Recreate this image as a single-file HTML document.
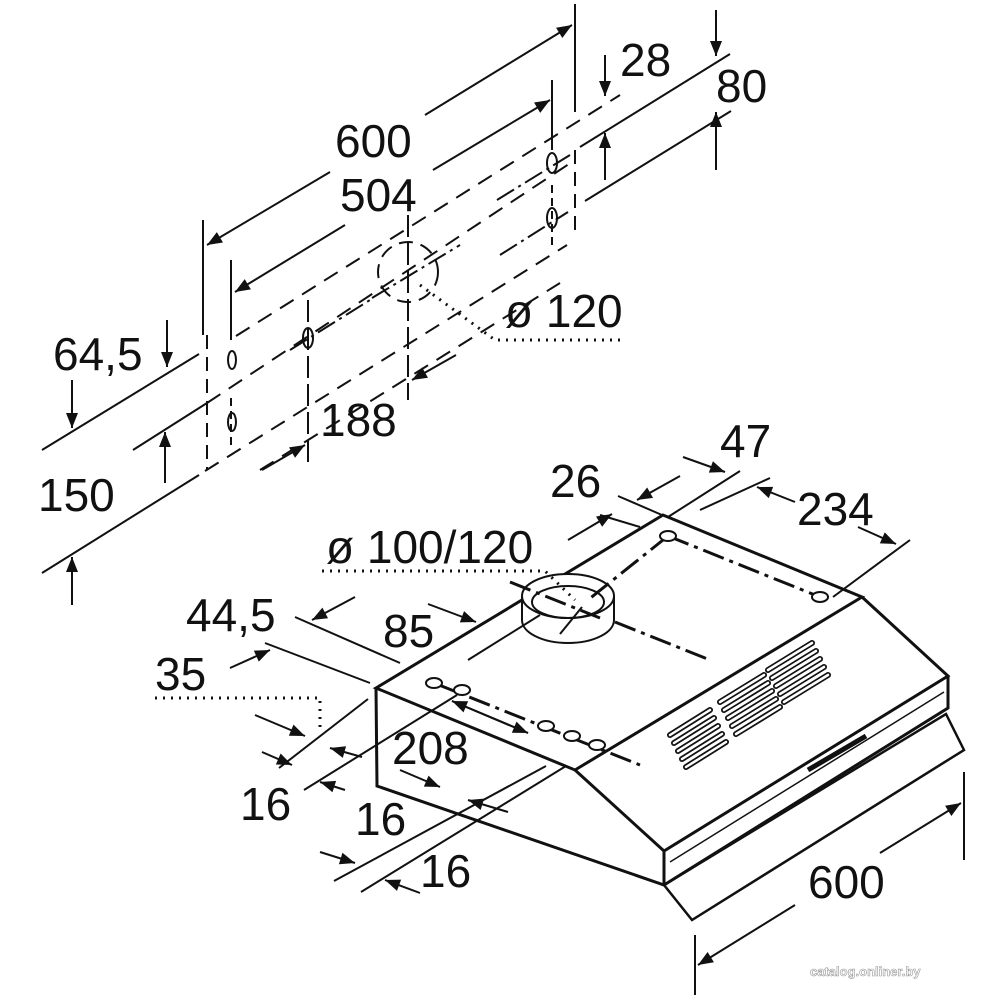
<!DOCTYPE html>
<html><head><meta charset="utf-8"><style>
body{margin:0;background:#fff}
svg text{font-family:"Liberation Sans",sans-serif;font-size:46px;fill:#111}
</style></head><body>
<svg width="1000" height="1000" viewBox="0 0 1000 1000" xmlns="http://www.w3.org/2000/svg">
<defs>
<marker id="b" viewBox="0 0 10 10" refX="10" refY="5" markerWidth="22" markerHeight="15" orient="auto" markerUnits="userSpaceOnUse"><path d="M0,1 L10,5 L0,9 z" fill="#111"/></marker>
</defs>
<g stroke="#111" stroke-width="2" fill="none">
<line x1="42" y1="450" x2="199" y2="354"/>
<line x1="133" y1="450" x2="207" y2="403"/>
<line x1="207" y1="403" x2="575" y2="160" stroke-dasharray="16,10"/>
<line x1="580" y1="147" x2="730" y2="54"/>
<line x1="42" y1="573" x2="199" y2="475"/>
<line x1="205" y1="471" x2="567" y2="245" stroke-dasharray="16,10"/>
<line x1="585" y1="201" x2="731" y2="111"/>
<line x1="236" y1="336" x2="620" y2="95" stroke-dasharray="16,10"/>
<line x1="260" y1="470" x2="560" y2="283" stroke-dasharray="16,10"/>
<line x1="207" y1="335" x2="207" y2="470" stroke-dasharray="14,8"/>
<line x1="575" y1="150" x2="575" y2="235" stroke-dasharray="14,8"/>
<line x1="203" y1="220" x2="203" y2="335"/>
<line x1="575" y1="4" x2="575" y2="112"/>
<line x1="231" y1="260" x2="231" y2="340"/>
<line x1="552" y1="80" x2="552" y2="150"/>
<line x1="231" y1="398" x2="231" y2="450" stroke-dasharray="8,5"/>
<line x1="552" y1="185" x2="552" y2="250" stroke-dasharray="8,5"/>
<line x1="308" y1="300" x2="308" y2="465" stroke-dasharray="22,6"/>
<line x1="408" y1="215" x2="408" y2="400" stroke-dasharray="22,6"/>
<line x1="330" y1="172" x2="207" y2="245" marker-end="url(#b)"/>
<line x1="425" y1="115" x2="572" y2="25" marker-end="url(#b)"/>
<line x1="345" y1="225" x2="235" y2="292" marker-end="url(#b)"/>
<line x1="433" y1="170" x2="550" y2="100" marker-end="url(#b)"/>
<line x1="372" y1="298" x2="460" y2="245" stroke-dasharray="20,5,3,5"/>
<line x1="290" y1="350" x2="370" y2="300" stroke-dasharray="20,5,3,5"/>
<line x1="497" y1="200" x2="570" y2="155" stroke-dasharray="20,5,3,5"/>
<line x1="500" y1="255" x2="568" y2="212" stroke-dasharray="20,5,3,5"/>
<circle cx="408" cy="272" r="30" stroke-dasharray="14,8"/>
<ellipse cx="232" cy="360" rx="4" ry="9"/><ellipse cx="232" cy="422" rx="4" ry="9"/>
<ellipse cx="308" cy="338" rx="5" ry="10"/><ellipse cx="552" cy="163" rx="5" ry="10"/><ellipse cx="552" cy="218" rx="5" ry="10"/>
<polyline points="420,285 495,340 625,340" stroke-dasharray="2,6" stroke-width="3"/>
<line x1="262" y1="470" x2="305" y2="445" marker-end="url(#b)"/>
<line x1="456" y1="355" x2="412" y2="380" marker-end="url(#b)"/>
<line x1="605" y1="55" x2="605" y2="96" marker-end="url(#b)"/>
<line x1="605" y1="180" x2="605" y2="133" marker-end="url(#b)"/>
<line x1="716" y1="10" x2="716" y2="56" marker-end="url(#b)"/>
<line x1="716" y1="170" x2="716" y2="112" marker-end="url(#b)"/>
<line x1="167" y1="320" x2="167" y2="367" marker-end="url(#b)"/>
<line x1="72" y1="380" x2="72" y2="428" marker-end="url(#b)"/>
<line x1="165" y1="483" x2="165" y2="432" marker-end="url(#b)"/>
<line x1="72" y1="605" x2="72" y2="557" marker-end="url(#b)"/>

<g stroke-width="3">
<polygon points="376,688 663,515 862,597 575,770"/>
<polyline points="575,770 664,851 948,676 862,597"/>
<polyline points="376,688 377,786 664,885 664,851"/>
<polyline points="664,885 948,708 948,676"/>
<polygon points="664,885 692,920 964,750 946,714" stroke-width="2.5"/>
</g>
<line x1="670" y1="862" x2="944" y2="692" stroke-width="1.5"/>
<line x1="808" y1="770" x2="866" y2="736" stroke-width="5"/>
<ellipse cx="568" cy="620" rx="46" ry="23" fill="#fff"/>
<rect x="522" y="596" width="92" height="24" fill="#fff" stroke="none"/>
<line x1="522" y1="596" x2="522" y2="620"/><line x1="614" y1="596" x2="614" y2="620"/>
<ellipse cx="568" cy="596" rx="46" ry="22" fill="#fff"/>
<ellipse cx="568" cy="602" rx="36" ry="16"/>
<line x1="668" y1="536" x2="820" y2="597" stroke-dasharray="22,6,4,6" stroke-width="3"/>
<line x1="668" y1="536" x2="588" y2="600" stroke-dasharray="22,6,4,6" stroke-width="3"/>
<line x1="510" y1="582" x2="600" y2="618" stroke-dasharray="22,6,4,6" stroke-width="3"/>
<line x1="615" y1="622" x2="710" y2="660" stroke-dasharray="22,6,4,6" stroke-width="3"/>
<line x1="434" y1="683" x2="640" y2="765" stroke-dasharray="22,6,4,6" stroke-width="3"/>
<line x1="468" y1="660" x2="540" y2="615"/>
<line x1="560" y1="634" x2="582" y2="607"/>
<g stroke-width="2" fill="#fff">
<ellipse cx="668" cy="536" rx="8" ry="5"/><ellipse cx="820" cy="597" rx="8" ry="5"/>
<ellipse cx="434" cy="683" rx="8" ry="5"/><ellipse cx="462" cy="690" rx="8" ry="5"/>
<ellipse cx="546" cy="726" rx="8" ry="5"/><ellipse cx="572" cy="736" rx="8" ry="5"/><ellipse cx="597" cy="745" rx="8" ry="5"/>
</g>
<g stroke-width="6" stroke-linecap="round">
<path d="M768,670 L812,643 M772,678 L816,651 M776,686 L820,659 M780,694 L824,667 M784,702 L828,675"/>
<path d="M720,702 L764,675 M724,710 L768,683 M728,718 L772,691 M732,726 L776,699 M736,734 L780,707"/>
<path d="M670,735 L710,710 M674,743 L714,718 M678,751 L718,726 M682,759 L722,734 M686,767 L726,742"/>
</g>
<g stroke="#fff" stroke-width="2.5" stroke-linecap="round">
<path d="M768,670 L812,643 M772,678 L816,651 M776,686 L820,659 M780,694 L824,667 M784,702 L828,675"/>
<path d="M720,702 L764,675 M724,710 L768,683 M728,718 L772,691 M732,726 L776,699 M736,734 L780,707"/>
<path d="M670,735 L710,710 M674,743 L714,718 M678,751 L718,726 M682,759 L722,734 M686,767 L726,742"/>
</g>
<line x1="600" y1="515" x2="640" y2="527"/>
<line x1="618" y1="496" x2="662" y2="515"/>
<line x1="668" y1="517" x2="740" y2="471"/>
<line x1="700" y1="510" x2="770" y2="478"/>
<line x1="833" y1="597" x2="910" y2="540"/>
<line x1="568" y1="540" x2="612" y2="514" marker-end="url(#b)"/>
<line x1="680" y1="476" x2="637" y2="500" marker-end="url(#b)"/>
<line x1="683" y1="457" x2="725" y2="472" marker-end="url(#b)"/>
<line x1="795" y1="502" x2="757" y2="487" marker-end="url(#b)"/>
<line x1="858" y1="527" x2="896" y2="544" marker-end="url(#b)"/>
<polyline points="322,571 545,571 575,600" stroke-dasharray="2,6" stroke-width="3"/>
<line x1="295" y1="617" x2="400" y2="663"/>
<line x1="265" y1="643" x2="370" y2="683"/>
<line x1="355" y1="597" x2="312" y2="620" marker-end="url(#b)"/>
<line x1="428" y1="604" x2="476" y2="622" marker-end="url(#b)"/>
<line x1="230" y1="668" x2="270" y2="650" marker-end="url(#b)"/>
<polyline points="155,698 320,698 320,730" stroke-dasharray="2,6" stroke-width="3"/>
<line x1="255" y1="715" x2="305" y2="736" marker-end="url(#b)"/>
<line x1="279" y1="768" x2="368" y2="699"/>
<line x1="304" y1="790" x2="457" y2="695"/>
<line x1="334" y1="881" x2="546" y2="766"/>
<line x1="361" y1="892" x2="566" y2="766"/>
<line x1="262" y1="752" x2="292" y2="765" marker-end="url(#b)"/>
<line x1="362" y1="757" x2="330" y2="748" marker-end="url(#b)"/>
<line x1="345" y1="790" x2="320" y2="782" marker-end="url(#b)"/>
<line x1="400" y1="770" x2="440" y2="787" marker-end="url(#b)"/>
<line x1="508" y1="812" x2="468" y2="800" marker-end="url(#b)"/>
<line x1="320" y1="852" x2="355" y2="863" marker-end="url(#b)"/>
<line x1="420" y1="893" x2="385" y2="880" marker-end="url(#b)"/>
<line x1="452" y1="701" x2="528" y2="733" marker-end="url(#b)"/>
<line x1="528" y1="733" x2="452" y2="701" marker-end="url(#b)"/>
<line x1="964" y1="772" x2="964" y2="860"/>
<line x1="695" y1="935" x2="695" y2="995"/>
<line x1="795" y1="905" x2="698" y2="965" marker-end="url(#b)"/>
<line x1="880" y1="853" x2="961" y2="803" marker-end="url(#b)"/>
</g>
<text x="335" y="157">600</text>
<text x="340" y="211">504</text>
<text x="620" y="76">28</text>
<text x="716" y="102">80</text>
<text x="505" y="327">ø 120</text>
<text x="53" y="370">64,5</text>
<text x="320" y="436">188</text>
<text x="38" y="511">150</text>
<text x="720" y="457">47</text>
<text x="550" y="497">26</text>
<text x="797" y="525">234</text>
<text x="326" y="563">ø 100/120</text>
<text x="186" y="631">44,5</text>
<text x="383" y="647">85</text>
<text x="155" y="690">35</text>
<text x="392" y="764">208</text>
<text x="240" y="820">16</text>
<text x="355" y="835">16</text>
<text x="420" y="887">16</text>
<text x="808" y="898">600</text>
<text x="810" y="976" style="font-size:13px;font-weight:bold;fill:#fff;stroke:#999;stroke-width:0.6">catalog.onliner.by</text>
</svg>
</body></html>
